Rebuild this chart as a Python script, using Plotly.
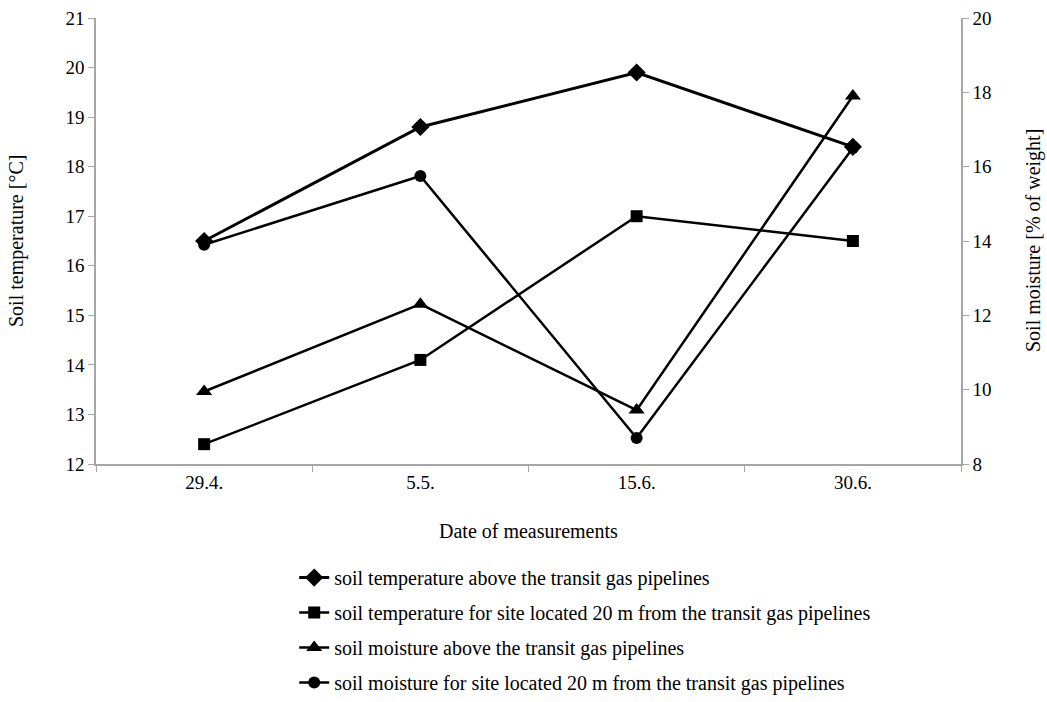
import plotly.graph_objects as go

# Measurement dates
dates = ["29.4.", "5.5.", "15.6.", "30.6."]

# Soil temperature [°C] (left axis)
temp_above = [16.5, 18.8, 19.9, 18.4]
temp_20m = [12.4, 14.1, 17.0, 16.5]

# Soil moisture [% of weight] (right axis)
moist_above = [9.95, 12.3, 9.45, 17.9]
moist_20m = [13.9, 15.75, 8.7, 16.5]

names = [
    "soil temperature above the transit gas pipelines",
    "soil temperature for site located 20 m from the transit gas pipelines",
    "soil moisture above the transit gas pipelines",
    "soil moisture for site located 20 m from the transit gas pipelines",
]

x_title = "Date of measurements"
y_title = "Soil temperature [°C]"
y2_title = "Soil moisture [% of weight]"

FONT = "Liberation Serif, Times New Roman, serif"
AXIS_GREY = "#a6a6a6"
TICK_SIZE = 19
TEXT_SIZE = 20

fig = go.Figure()

series = [
    (temp_above, names[0], "diamond", 14, 3, "y"),
    (temp_20m, names[1], "square", 12, 2.5, "y"),
    (moist_above, names[2], "triangle-up", 14, 2.5, "y2"),
    (moist_20m, names[3], "circle", 12, 2.5, "y2"),
]

for i, (vals, name, sym, size, lw, yax) in enumerate(series):
    fig.add_trace(go.Scatter(
        x=dates, y=vals, name=name, yaxis=yax,
        mode="lines+markers",
        line=dict(color="black", width=lw),
        marker=dict(symbol=sym, size=size, color="black"),
        legendgroup=f"g{i}",
    ))

axis_common = dict(
    showline=True, linecolor=AXIS_GREY, linewidth=1.5,
    ticks="outside", ticklen=6, tickcolor=AXIS_GREY,
    showgrid=False, zeroline=False, automargin=False,
    tickfont=dict(family=FONT, size=TICK_SIZE),
)

fig.update_layout(
    width=1047, height=702,
    margin=dict(l=96, r=86, t=18, b=238, autoexpand=False),
    paper_bgcolor="white", plot_bgcolor="white",
    font=dict(family=FONT, size=TEXT_SIZE, color="black"),
    showlegend=True,
    legend=dict(
        orientation="v",
        xref="container", x=0.281, xanchor="left",
        yref="container", y=0.205, yanchor="top",
        font=dict(family=FONT, size=TEXT_SIZE, color="black"),
        tracegroupgap=6, bgcolor="rgba(0,0,0,0)",
    ),
    xaxis=dict(type="category", tickson="boundaries", range=[-0.5, 3.5], **axis_common),
    yaxis=dict(range=[12, 21], dtick=1, **axis_common),
    yaxis2=dict(range=[8, 20], dtick=2, overlaying="y", side="right", **axis_common),
)

# Axis titles
title_font = dict(family=FONT, size=TEXT_SIZE, color="black")
fig.add_annotation(text=x_title, xref="paper", yref="paper", x=0.5, y=0,
                   yshift=-67, showarrow=False, yanchor="middle", font=title_font)
fig.add_annotation(text=y_title, xref="paper", yref="paper", x=0, y=0.5,
                   xshift=-80, textangle=-90, showarrow=False, xanchor="center",
                   font=title_font)
fig.add_annotation(text=y2_title, xref="paper", yref="paper", x=1, y=0.5,
                   xshift=72, textangle=-90, showarrow=False, xanchor="center",
                   font=title_font)

fig.write_html("out.html")
